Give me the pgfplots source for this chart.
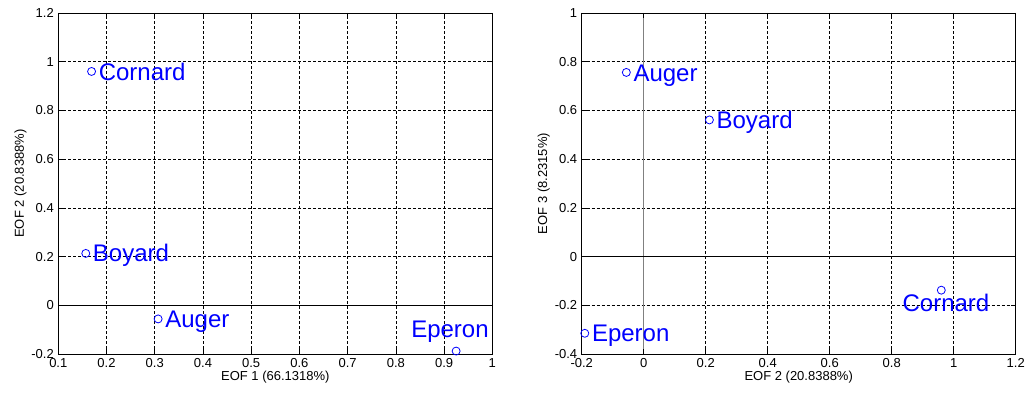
\documentclass[border=0pt]{standalone}
\usepackage{fontspec}
\setmainfont{Liberation Sans}
\usepackage{pgfplots}
\pgfplotsset{compat=1.18}
\definecolor{mblue}{RGB}{0,0,255}
\definecolor{zgray}{RGB}{128,128,128}
\pgfplotsset{mystyle/.style={
  scale only axis, width=434pt, height=341pt, anchor=south west,
  axis line style={black, line width=0.8pt},
  grid=major,
  major grid style={black, dash pattern=on 3pt off 2pt, line width=0.7pt},
  tick align=inside, major tick length=5pt,
  tick style={black, line width=0.6pt},
  ticklabel style={font=\fontsize{13}{15}\selectfont},
  label style={font=\fontsize{13}{15}\selectfont},
  xticklabel style={yshift=-1pt},
  yticklabel style={xshift=-1pt},
  xlabel style={yshift=4pt},
  ylabel style={yshift=-2pt},
  extra y ticks={0}, extra y tick labels={0},
  extra y tick style={major grid style={black, solid, line width=0.8pt}},
}}
\newcommand{\lab}[3]{\node[mblue, anchor=base west, inner sep=0pt, xshift=7pt, yshift=-8.6pt, font=\fontsize{24}{26}\selectfont] at (axis cs:#1,#2) {#3};}
\newcommand{\labat}[3]{\node[mblue, anchor=base west, inner sep=0pt, yshift=-8.6pt, font=\fontsize{24}{26}\selectfont] at (axis cs:#1,#2) {#3};}
\begin{document}
\begin{tikzpicture}
\useasboundingbox (0,0) rectangle (1028pt,395pt);
\begin{axis}[mystyle, at={(58.3pt,41pt)},
  xmin=0.1, xmax=1, ymin=-0.2, ymax=1.2,
  xtick={0.1,0.2,0.3,0.4,0.5,0.6,0.7,0.8,0.9,1},
  xticklabels={0.1,0.2,0.3,0.4,0.5,0.6,0.7,0.8,0.9,1},
  ytick={-0.2,0.2,0.4,0.6,0.8,1,1.2},
  yticklabels={-0.2,0.2,0.4,0.6,0.8,1,1.2},
  xlabel={EOF 1 (66.1318\%)}, ylabel={EOF 2 (20.8388\%)}]
\addplot[only marks, mark=o, mark size=4pt, mblue, mark options={line width=0.8pt}] coordinates {
(0.169,0.960) (0.157,0.213) (0.307,-0.056) (0.925,-0.188)};
\lab{0.169}{0.960}{Cornard}
\lab{0.157}{0.213}{Boyard}
\lab{0.307}{-0.056}{Auger}
\labat{0.8316}{-0.0977}{Eperon}
\end{axis}
\begin{axis}[mystyle, at={(581.7pt,41pt)},
  xmin=-0.2, xmax=1.2, ymin=-0.4, ymax=1,
  xtick={-0.2,0.2,0.4,0.6,0.8,1,1.2},
  xticklabels={-0.2,0.2,0.4,0.6,0.8,1,1.2},
  ytick={-0.4,-0.2,0.2,0.4,0.6,0.8,1},
  yticklabels={-0.4,-0.2,0.2,0.4,0.6,0.8,1},
  extra x ticks={0}, extra x tick labels={0},
  extra x tick style={major grid style={zgray, solid, line width=1.4pt}},
  xlabel={EOF 2 (20.8388\%)}, ylabel={EOF 3 (8.2315\%)}]
\addplot[only marks, mark=o, mark size=4pt, mblue, mark options={line width=0.8pt}] coordinates {
(-0.056,0.756) (0.212,0.561) (-0.190,-0.315) (0.960,-0.138)};
\lab{-0.056}{0.756}{Auger}
\lab{0.212}{0.561}{Boyard}
\lab{-0.190}{-0.315}{Eperon}
\labat{0.8346}{-0.189}{Cornard}
\end{axis}
\end{tikzpicture}
\end{document}
